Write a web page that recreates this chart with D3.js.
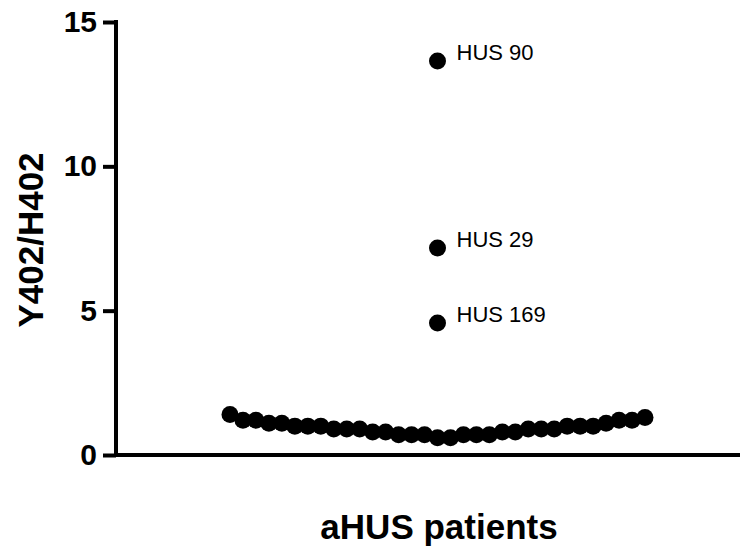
<!DOCTYPE html>
<html>
<head>
<meta charset="utf-8">
<script src="https://cdn.jsdelivr.net/npm/d3@7"></script>
<style>
  body { margin: 0; background: #fff; }
  svg { display: block; font-family: "Liberation Sans", Arial, sans-serif; }
</style>
</head>
<body>
<div id="chart"></div>
<script>
// ratio values, patients in plot order
let ratios = [1.4, 1.2, 1.2, 1.1, 1.1, 1.0, 1.0, 1.0, 0.9, 0.9, 0.9, 0.8, 0.8, 0.7, 0.7, 0.7, 0.6,
    0.6, 0.7, 0.7, 0.7, 0.8, 0.8, 0.9, 0.9, 0.9, 1.0, 1.0, 1.0, 1.1, 1.2, 1.2, 1.3];
// labelled outliers, all in the middle column
let outlierNames = ["HUS 90", "HUS 29", "HUS 169"];
let outlierValues = [13.65, 7.17, 4.57];
let outlierIndex = 16;
let yTicks = [0, 5, 10, 15];

let frame = { width: 753, height: 551 };
let axisX = 116, axisY = 455, topY = 22, rightX = 740;

let svg = d3.select("#chart").append("svg")
    .attr("width", frame.width)
    .attr("height", frame.height);

let x = d3.scaleLinear()
    .domain([0, ratios.length - 1])
    .range([230, 645]);

let y = d3.scaleLinear()
    .domain([0, 15])
    .range([axisY, topY]);

// y axis
let yAxis = svg.append("g")
    .attr("transform", "translate(" + axisX + ",0)")
    .call(d3.axisLeft(y).tickValues(yTicks).tickSize(13).tickPadding(6).tickSizeOuter(0));
yAxis.select(".domain").attr("stroke", "#000").attr("stroke-width", 4)
    .attr("d", "M0," + (topY - 2) + "V" + (axisY + 2));
yAxis.selectAll(".tick line").attr("stroke", "#000").attr("stroke-width", 4);
yAxis.selectAll(".tick text")
    .style("font-size", "30px")
    .style("font-weight", "bold")
    .attr("fill", "#000")
    .attr("font-family", "Liberation Sans, Arial, sans-serif");

// x axis baseline
svg.append("line")
    .attr("x1", axisX - 2).attr("x2", rightX)
    .attr("y1", axisY).attr("y2", axisY)
    .attr("stroke", "#000").attr("stroke-width", 4);

// points
svg.append("g").selectAll("circle")
    .data(ratios)
    .enter().append("circle")
    .attr("cx", function (d, i) { return x(i); })
    .attr("cy", function (d) { return y(d); })
    .attr("r", 8.5)
    .attr("fill", "#000");

let outliers = outlierValues.map(function (v, i) { return { name: outlierNames[i], value: v }; });
let og = svg.append("g");
og.selectAll("circle")
    .data(outliers)
    .enter().append("circle")
    .attr("cx", x(outlierIndex))
    .attr("cy", function (d) { return y(d.value); })
    .attr("r", 8.5)
    .attr("fill", "#000");
og.selectAll("text")
    .data(outliers)
    .enter().append("text")
    .attr("x", x(outlierIndex) + 19)
    .attr("y", function (d) { return y(d.value) - 1; })
    .style("font-size", "22px")
    .attr("fill", "#000")
    .text(function (d) { return d.name; });

// axis titles
svg.append("text")
    .attr("transform", "translate(43,240) rotate(-90)")
    .attr("text-anchor", "middle")
    .style("font-size", "35px")
    .style("font-weight", "bold")
    .text("Y402/H402");

svg.append("text")
    .attr("x", 439)
    .attr("y", 539)
    .attr("text-anchor", "middle")
    .style("font-size", "35px")
    .style("font-weight", "bold")
    .text("aHUS patients");
</script>
</body>
</html>
